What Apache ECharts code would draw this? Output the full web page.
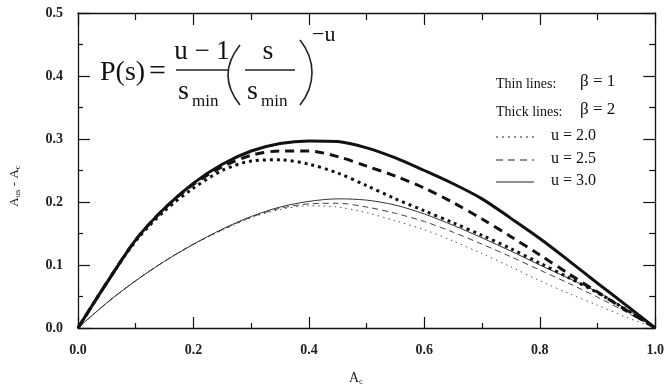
<!DOCTYPE html>
<html><head><meta charset="utf-8">
<script src="https://cdn.jsdelivr.net/npm/echarts@6/dist/echarts.min.js"></script>
<style>html,body{margin:0;padding:0;background:#fff}#c{width:667px;height:389px}</style>
</head><body><div id="c"></div>
<script>
var xVals = [0,0.05,0.1,0.15,0.2,0.25,0.3,0.35,0.4,0.45,0.5,0.55,0.6,0.65,0.7,0.75,0.8,0.85,0.9,0.95,1.0];
var thickU30 = [0,0.072,0.14,0.19,0.23,0.26,0.281,0.293,0.297,0.296,0.286,0.27,0.25,0.229,0.205,0.174,0.142,0.107,0.071,0.036,0];
var thickU25 = [0,0.072,0.14,0.19,0.228,0.256,0.274,0.281,0.281,0.272,0.257,0.241,0.222,0.199,0.173,0.145,0.116,0.086,0.057,0.028,0];
var thickU20 = [0,0.072,0.138,0.186,0.222,0.25,0.265,0.267,0.26,0.246,0.226,0.205,0.186,0.167,0.147,0.126,0.103,0.08,0.056,0.029,0];
var thinU30 = [0,0.04,0.075,0.106,0.133,0.157,0.177,0.192,0.201,0.205,0.203,0.195,0.181,0.163,0.143,0.122,0.1,0.079,0.057,0.03,0];
var thinU25 = [0,0.04,0.075,0.106,0.133,0.156,0.176,0.19,0.197,0.198,0.192,0.182,0.169,0.152,0.133,0.113,0.092,0.071,0.049,0.025,0];
var thinU20 = [0,0.04,0.075,0.106,0.133,0.155,0.175,0.188,0.194,0.192,0.183,0.17,0.156,0.138,0.118,0.097,0.075,0.055,0.036,0.017,0];
var xTickLabels = ['0.0','0.2','0.4','0.6','0.8','1.0'];
var yTickLabels = ['0.0','0.1','0.2','0.3','0.4','0.5'];
var legendTexts = ['u = 2.0','u = 2.5','u = 3.0'];

function pairs(ys){ return xVals.map(function(x,i){return [x, ys[i]];}); }
var serif = 'Liberation Serif';
function mk(name, ys, width, type, color){
  return {name:name, type:'line', data:pairs(ys), showSymbol:false, smooth:0.3, silent:true,
    lineStyle:{width:width, type:type, color:color, cap:'butt'}, z: width>2?3:2};
}
function axisX(pos, show, major, minor){
  return {type:'value', position:pos, min:0, max:1, interval:0.2,
    axisLine:{show:true, onZero:false, lineStyle:{color:'#111', width:1.3}},
    axisTick:{show:true, inside:true, length:major, lineStyle:{color:'#111', width:1.2}},
    minorTick:{show:true, splitNumber:2, length:minor, lineStyle:{color:'#111', width:1.2}},
    splitLine:{show:false}, minorSplitLine:{show:false},
    axisLabel:{show:show, margin:15, fontFamily:serif, fontSize:14, fontWeight:'bold', color:'#222',
      formatter:function(v){return xTickLabels[Math.round(v/0.2)];}}};
}
function axisY(pos, show, major, minor){
  return {type:'value', position:pos, min:0, max:0.5, interval:0.1,
    axisLine:{show:true, onZero:false, lineStyle:{color:'#111', width:1.3}},
    axisTick:{show:true, inside:true, length:major, lineStyle:{color:'#111', width:1.2}},
    minorTick:{show:true, splitNumber:2, length:minor, lineStyle:{color:'#111', width:1.2}},
    splitLine:{show:false}, minorSplitLine:{show:false},
    axisLabel:{show:show, margin:15, fontFamily:serif, fontSize:14, fontWeight:'bold', color:'#222',
      formatter:function(v){return yTickLabels[Math.round(v/0.1)];}}};
}
var F = function(sz){ return sz + 'px "Liberation Serif"'; };
function txt(t, x, y, sz, align, extra){
  var s = {text:t, x:x, y:y, font:F(sz), fill:'#111', textAlign:align||'left', textVerticalAlign:'middle', align:align||'left', verticalAlign:'middle'};
  if (extra) for (var k in extra) s[k]=extra[k];
  return {type:'text', style:s, z:10};
}
function ln(x1,y1,x2,y2,w,dash){
  return {type:'line', shape:{x1:x1,y1:y1,x2:x2,y2:y2}, style:{stroke:'#222', lineWidth:w, lineDash:dash||null}, z:10};
}
var graphics = [
  // formula
  txt('P(s)', 100, 73, 28),
  txt('=', 149, 72, 30),
  txt('u \u2212 1', 202, 52, 27, 'center'),
  ln(176,70,229,70,1.5),
  txt('s', 178, 92, 28),
  txt('min', 192, 102, 17),
  {type:'bezierCurve', shape:{x1:240,y1:45,cpx1:224,cpy1:65,cpx2:224,cpy2:85,x2:240,y2:105}, style:{stroke:'#222', lineWidth:1.6, fill:null}, z:10},
  txt('s', 268, 52, 28, 'center'),
  ln(245,70,295,70,1.5),
  txt('s', 247, 92, 28),
  txt('min', 261, 102, 17),
  {type:'bezierCurve', shape:{x1:300,y1:40,cpx1:316,cpy1:60,cpx2:316,cpy2:85,x2:300,y2:105}, style:{stroke:'#222', lineWidth:1.6, fill:null}, z:10},
  txt('\u2212u', 312, 35, 22),
  // legend
  txt('Thin lines:', 496, 84, 14),
  txt('\u03b2 = 1', 580, 82, 17),
  txt('Thick lines:', 496, 112, 14),
  txt('\u03b2 = 2', 580, 110, 17),
  ln(496,137,534,137,1.2,[2,4]),
  txt(legendTexts[0], 551, 136, 16),
  ln(496,160,534,160,1.2,[7,5]),
  txt(legendTexts[1], 551, 159, 16),
  ln(496,182,534,182,1.2),
  txt(legendTexts[2], 551, 181, 16),
  // axis names
  {type:'text', x:15, y:186, rotation:Math.PI/2, style:{text:'{a|A}{b|us}{a| - A}{b|c}', fill:'#222', textAlign:'center', textVerticalAlign:'middle', align:'center', verticalAlign:'middle',
     rich:{a:{font:F(13), fill:'#222'}, b:{font:F(9), fill:'#222', verticalAlign:'bottom', padding:[6,0,0,0]}}}, z:10},
  {type:'text', x:356, y:378, style:{text:'{a|A}{b|c}', fill:'#222', textAlign:'center', textVerticalAlign:'middle', align:'center', verticalAlign:'middle',
     rich:{a:{font:F(14), fill:'#222'}, b:{font:F(9), fill:'#222', padding:[8,0,0,0]}}}, z:10}
];
var chart = echarts.init(document.getElementById('c'), null, {renderer:'canvas'});
chart.setOption({
  backgroundColor:'#fff',
  animation:false,
  grid:{left:78, right:10, top:13, bottom:61, containLabel:false},
  xAxis:[axisX('bottom', true, 11, 5), axisX('top', false, 12, 7)],
  yAxis:[axisY('left', true, 12, 5), axisY('right', false, 12, 6)],
  series:[
    mk('thin u=2.0', thinU20, 1, [1.5,4], '#555'),
    mk('thin u=2.5', thinU25, 1, [6,4], '#444'),
    mk('thin u=3.0', thinU30, 1, 'solid', '#333'),
    mk('thick u=2.0', thickU20, 3, [3,4], '#111'),
    mk('thick u=2.5', thickU25, 3, [9,6], '#111'),
    mk('thick u=3.0', thickU30, 3, 'solid', '#111')
  ],
  graphic:graphics
});
</script></body></html>
